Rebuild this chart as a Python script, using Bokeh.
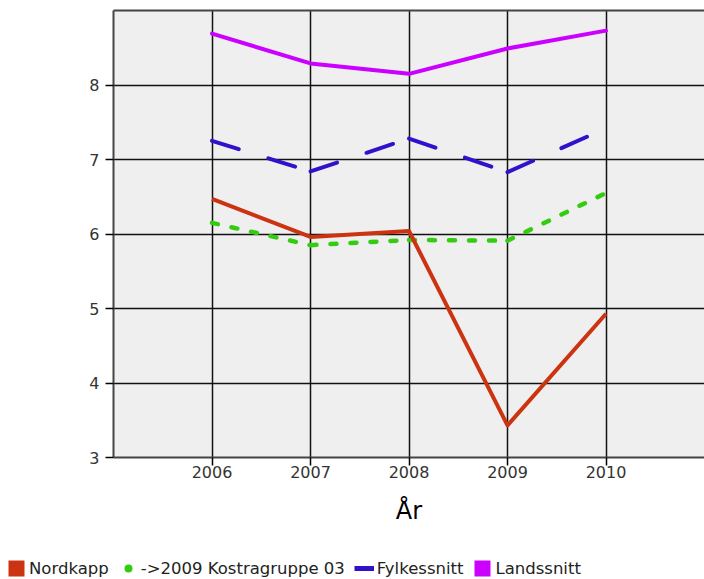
from bokeh.plotting import figure
from bokeh.layouts import column
from bokeh.models import FixedTicker, Legend, LegendItem, Range1d, LinearAxis
from bokeh.embed import file_html
from bokeh.resources import INLINE

years = [2006, 2007, 2008, 2009, 2010]
nordkapp = [6.47, 5.96, 6.04, 3.43, 4.93]
kostra = [6.15, 5.85, 5.92, 5.91, 6.55]
fylke = [7.25, 6.84, 7.28, 6.83, 7.42]
lands = [8.69, 8.29, 8.15, 8.49, 8.73]
x_ticks = [2006, 2007, 2008, 2009, 2010]
y_ticks = [3, 4, 5, 6, 7, 8]
names = ["Nordkapp", "->2009 Kostragruppe 03", "Fylkessnitt", "Landssnitt"]
colors = ["#cc3311", "#33cc11", "#3311cc", "#cc00ff"]
x_title = "År"

FONT = "DejaVu Sans"
NAN = float("nan")
FRAME = "#444444"


def segments(xs, ys):
    """Split a series into one line per interval (dash pattern restarts at every point)."""
    return ([[xs[i], xs[i + 1]] for i in range(len(xs) - 1)],
            [[ys[i], ys[i + 1]] for i in range(len(ys) - 1)])


p = figure(width=704, height=553, x_range=Range1d(2005, 2011), y_range=Range1d(3, 9),
           output_backend="svg", toolbar_location=None,
           min_border_left=113, min_border_top=10, min_border_right=0, min_border_bottom=96)
p.frame_align = False

p.background_fill_color = "#efefef"
p.border_fill_color = "white"
p.outline_line_color = None

for ax in (p.xaxis[0], p.yaxis[0]):
    ax.axis_line_color = FRAME
    ax.axis_line_width = 2
    ax.major_tick_out = 8
    ax.major_tick_in = 0
    ax.major_tick_line_color = "black"
    ax.major_tick_line_width = 1.5
    ax.minor_tick_line_color = None
    ax.major_label_text_font = FONT
    ax.major_label_text_font_size = "16px"
    ax.major_label_text_color = "#333333"

p.xaxis.ticker = FixedTicker(ticks=x_ticks)
p.yaxis.ticker = FixedTicker(ticks=y_ticks)
p.xaxis.major_label_standoff = 0
p.yaxis.major_label_standoff = 6
p.xaxis.axis_label = x_title
p.xaxis.axis_label_text_font = FONT
p.xaxis.axis_label_text_font_style = "normal"
p.xaxis.axis_label_text_font_size = "24px"
p.xaxis.axis_label_text_color = "black"
p.xaxis.axis_label_standoff = 16

top_axis = LinearAxis(ticker=FixedTicker(ticks=[]), axis_line_color=FRAME, axis_line_width=2,
                      major_tick_line_color=None, minor_tick_line_color=None,
                      major_label_text_font_size="0px", major_tick_out=0, major_tick_in=0,
                      major_label_standoff=0)
p.add_layout(top_axis, "above")

p.xgrid.ticker = FixedTicker(ticks=x_ticks)
p.ygrid.ticker = FixedTicker(ticks=y_ticks)
for g in (p.xgrid[0], p.ygrid[0]):
    g.grid_line_color = "#111111"
    g.grid_line_width = 1.5

p.line(years, lands, line_color=colors[3], line_width=4, line_join="round", line_cap="round")
fx, fy = segments(years, fylke)
p.multi_line(fx, fy, line_color=colors[2], line_width=4, line_dash="28 31", line_cap="round")
kx, ky = segments(years, kostra)
p.multi_line(kx, ky, line_color=colors[1], line_width=4.5, line_dash="6 14", line_cap="round")
p.line(years, nordkapp, line_color=colors[0], line_width=4, line_join="round")

# legend strip: a bare figure that only holds the legend
lg = figure(width=704, height=26, x_range=Range1d(0, 1), y_range=Range1d(0, 1),
            output_backend="svg", toolbar_location=None,
            min_border=0, outline_line_color=None)
lg.frame_align = False
lg.axis.visible = False
lg.grid.visible = False
lg.background_fill_color = "white"

r0 = lg.quad(left=[NAN], right=[NAN], top=[NAN], bottom=[NAN], fill_color=colors[0], line_color=None)
r1 = lg.scatter(x=[NAN], y=[NAN], marker="circle", fill_color=colors[1], line_color=None)
r2 = lg.line(x=[NAN, NAN], y=[NAN, NAN], line_color=colors[2], line_width=5)
r3 = lg.quad(left=[NAN], right=[NAN], top=[NAN], bottom=[NAN], fill_color=colors[3], line_color=None)

legend = Legend(items=[LegendItem(label=names[0], renderers=[r0]),
                       LegendItem(label=names[1], renderers=[r1]),
                       LegendItem(label=names[2], renderers=[r2]),
                       LegendItem(label=names[3], renderers=[r3])],
                orientation="horizontal", location=(6, 1),
                glyph_width=20, glyph_height=20, label_standoff=3, spacing=9,
                padding=1, margin=0, border_line_color=None, background_fill_alpha=0,
                label_text_font=FONT, label_text_font_size="16.5px", label_text_color="#222222",
                label_height=20)
lg.add_layout(legend, "center")

layout = column(p, lg, spacing=0)
open("out.html", "w").write(file_html(layout, INLINE))
